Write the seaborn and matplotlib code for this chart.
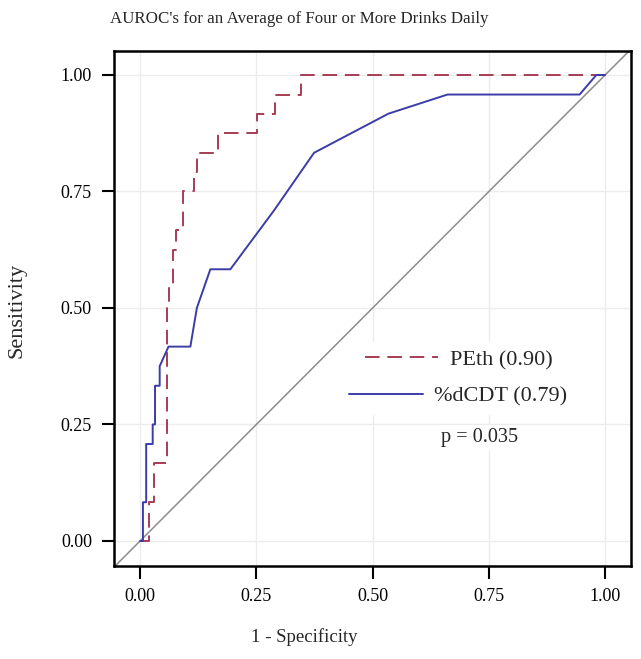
import pandas as pd
import seaborn as sns
import matplotlib.pyplot as plt
from matplotlib.lines import Line2D

# ROC coordinates
peth_fpr = [0.0, 0.020, 0.020, 0.029, 0.029, 0.057, 0.057, 0.063, 0.063, 0.071, 0.071,
            0.078, 0.078, 0.093, 0.093, 0.115, 0.115, 0.122, 0.122, 0.168, 0.168,
            0.251, 0.251, 0.289, 0.289, 0.346, 0.346, 1.0]
peth_tpr = [0.0, 0.0, 0.083, 0.083, 0.167, 0.167, 0.500, 0.500, 0.542, 0.542, 0.625,
            0.625, 0.667, 0.667, 0.750, 0.750, 0.792, 0.792, 0.833, 0.833, 0.875,
            0.875, 0.917, 0.917, 0.958, 0.958, 1.0, 1.0]

cdt_fpr = [0.0, 0.006, 0.006, 0.013, 0.013, 0.027, 0.027, 0.032, 0.032, 0.042, 0.042,
           0.061, 0.108, 0.122, 0.151, 0.194, 0.287, 0.374, 0.534, 0.661, 0.945,
           0.981, 1.0]
cdt_tpr = [0.0, 0.0, 0.083, 0.083, 0.208, 0.208, 0.250, 0.250, 0.333, 0.333, 0.375,
           0.417, 0.417, 0.500, 0.583, 0.583, 0.708, 0.833, 0.917, 0.958, 0.958,
           1.0, 1.0]

labels = ['PEth (0.90)', '%dCDT (0.79)']
colors = ['#A63D55', '#3C3CA8']
ticks = [0.0, 0.25, 0.5, 0.75, 1.0]
p_text = 'p = 0.035'

df = pd.concat([
    pd.DataFrame({'fpr': peth_fpr, 'tpr': peth_tpr, 'test': labels[0]}),
    pd.DataFrame({'fpr': cdt_fpr, 'tpr': cdt_tpr, 'test': labels[1]}),
], ignore_index=True)

sns.set_theme(style='white')
plt.rcParams['font.family'] = ['Liberation Serif', 'DejaVu Serif']

fig = plt.figure(figsize=(6.41, 6.59), dpi=100)
ax = fig.add_axes([0.178, 0.141, 0.806, 0.782])

ax.axline((0, 0), (1, 1), color='#8c8c8c', lw=1.1, zorder=2)

dash = (7.5, 4)
sns.lineplot(data=df, x='fpr', y='tpr', hue='test', style='test', sort=False,
             estimator=None, palette=colors,
             dashes={labels[0]: dash, labels[1]: ''}, lw=1.4, ax=ax, zorder=3,
             legend=False)

ax.set_xlim(-0.056, 1.055)
ax.set_ylim(-0.054, 1.052)
ax.set_xticks(ticks)
ax.set_yticks(ticks)
ax.set_xticklabels([f'{t:.2f}' for t in ticks])
ax.set_yticklabels([f'{t:.2f}' for t in ticks])
ax.tick_params(direction='out', length=9, width=1.5, labelsize=13, pad=7,
               bottom=True, left=True, colors='black')
ax.grid(True, color='#ececec', lw=1, zorder=0)
ax.set_axisbelow(True)
for s in ax.spines.values():
    s.set_color('black')
    s.set_linewidth(1.8)

ax.set_xlabel('')
ax.set_ylabel('')
fig.text(299 / 641, 1 - 19 / 659, "AUROC's for an Average of Four or More Drinks Daily",
         ha='center', va='center', fontsize=12.2)
fig.text(304 / 641, 1 - 637 / 659, '1 - Specificity', ha='center', va='center',
         fontsize=13.5)
fig.text(17 / 641, 1 - 310 / 659, 'Sensitivity', ha='center', va='center',
         rotation=90, fontsize=16)

# two single-entry legends, each centred like the original
handles = [Line2D([], [], color=colors[0], lw=1.4, dashes=dash),
           Line2D([], [], color=colors[1], lw=1.4)]
anchors = [(0.667, 0.400), (0.666, 0.330)]
for h, lab, anc in zip(handles, labels, anchors):
    leg = ax.legend([h], [lab], loc='center', bbox_to_anchor=anc, frameon=True,
                    fontsize=16, handlelength=3.3, handletextpad=0.5,
                    borderpad=0.35, borderaxespad=0)
    leg.get_frame().set_facecolor('white')
    leg.get_frame().set_edgecolor('white')
    leg.get_frame().set_alpha(1)
    leg.set_zorder(1)
    ax.add_artist(leg)

ax.text(0.708, 0.250, p_text, transform=ax.transAxes, ha='center', va='center',
        fontsize=14.6, zorder=1,
        bbox=dict(facecolor='white', edgecolor='none', pad=2))

fig.savefig('out.png', dpi=100)
